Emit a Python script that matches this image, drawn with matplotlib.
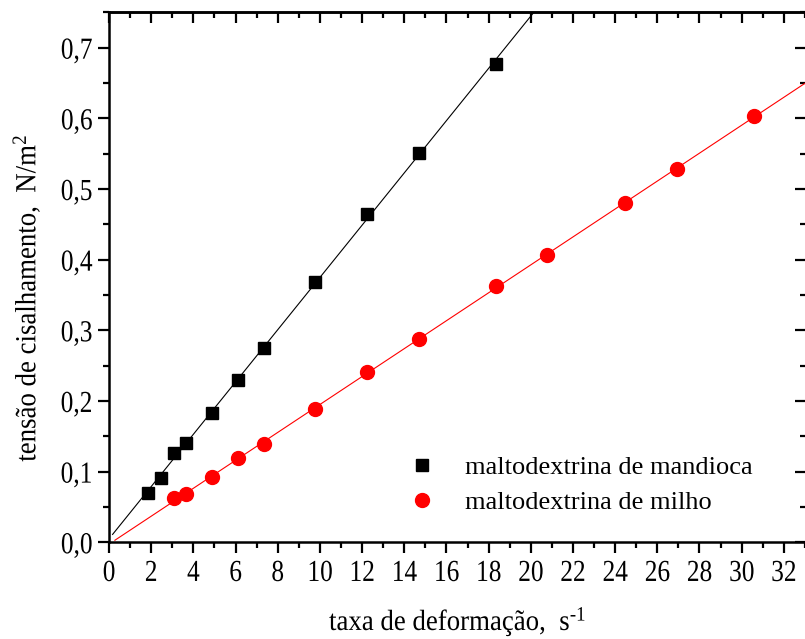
import numpy as np
import matplotlib
matplotlib.use('Agg')
import matplotlib.pyplot as plt
from matplotlib.ticker import MultipleLocator, FuncFormatter
from matplotlib.patheffects import AbstractPathEffect
from matplotlib.transforms import Affine2D

plt.rcParams['font.family'] = ['Liberation Serif', 'DejaVu Serif']
plt.rcParams['mathtext.fontset'] = 'custom'
plt.rcParams['mathtext.rm'] = 'Liberation Serif'
plt.rcParams['mathtext.it'] = 'Liberation Serif:italic'

# dados
taxa_mandioca = [1.83, 2.45, 3.06, 3.67, 4.89, 6.12, 7.34, 9.79, 12.23, 14.68, 18.35]
tensao_mandioca = [0.070, 0.091, 0.126, 0.140, 0.183, 0.230, 0.275, 0.369, 0.464, 0.551, 0.677]

taxa_milho = [3.06, 3.67, 4.89, 6.12, 7.34, 9.79, 12.23, 14.68, 18.35, 20.79, 24.46, 26.91, 30.58]
tensao_milho = [0.063, 0.069, 0.092, 0.119, 0.139, 0.188, 0.241, 0.288, 0.363, 0.407, 0.480, 0.528, 0.603]

nomes = ['maltodextrina de mandioca', 'maltodextrina de milho']


# fonte "condensada": estreita o texto na direcao da escrita
class Estreitar(AbstractPathEffect):
    def __init__(self, fator=0.85, ancora='center'):
        super().__init__()
        self.fator = fator
        self.ancora = ancora

    def draw_path(self, renderer, gc, tpath, affine, rgbFace=None):
        ext = tpath.get_extents(affine)
        if self.ancora == 'vertical':
            cy = (ext.y0 + ext.y1) / 2
            t = affine + Affine2D().translate(0, -cy).scale(1, self.fator).translate(0, cy)
        else:
            if self.ancora == 'right':
                cx = ext.x1
            else:
                cx = (ext.x0 + ext.x1) / 2
            t = affine + Affine2D().translate(-cx, 0).scale(self.fator, 1).translate(cx, 0)
        renderer.draw_path(gc, tpath, t, rgbFace)


fig = plt.figure(figsize=(8.05, 6.39), dpi=100)
ax = fig.add_axes([109 / 805, (639 - 542.3) / 639, 697 / 805, 530.3 / 639])

# ajuste linear de cada serie
xs = np.array([0.17, 33.5])
a, b = np.polyfit(taxa_mandioca, tensao_mandioca, 1)
ax.plot(xs, a * xs + b, color='black', lw=0.8)
a, b = np.polyfit(taxa_milho, tensao_milho, 1)
xs2 = np.array([0.28, 33.5])
ax.plot(xs2, a * xs2 + b, color='red', lw=0.8)

ax.plot(taxa_mandioca, tensao_mandioca, 's', color='black', ms=8.5, ls='none', label=nomes[0])
ax.plot(taxa_milho, tensao_milho, 'o', color='red', ms=10, ls='none', label=nomes[1])

ax.set_xlim(0, 33.05)
ax.set_ylim(0, 0.7505)

ax.xaxis.set_major_locator(MultipleLocator(2))
ax.xaxis.set_minor_locator(MultipleLocator(1))
ax.yaxis.set_major_locator(MultipleLocator(0.1))
ax.yaxis.set_minor_locator(MultipleLocator(0.05))
ax.yaxis.set_major_formatter(FuncFormatter(lambda v, p: f'{v:.1f}'.replace('.', ',')))

ax.tick_params(which='major', direction='out', length=8, width=1.6, labelsize=22)
ax.tick_params(axis='x', which='major', pad=4)
ax.tick_params(axis='y', which='major', pad=4)
ax.tick_params(which='minor', direction='out', length=4.5, width=1.6)

for s in ax.spines.values():
    s.set_linewidth(1.8)

# eixos de cima e da direita com ticks para dentro
top = ax.secondary_xaxis('top')
top.xaxis.set_major_locator(MultipleLocator(2))
top.xaxis.set_minor_locator(MultipleLocator(1))
top.tick_params(which='major', direction='in', length=8, width=1.6, labeltop=False)
top.tick_params(which='minor', direction='in', length=4.5, width=1.6)
top.spines['top'].set_linewidth(1.8)

right = ax.secondary_yaxis('right')
right.yaxis.set_major_locator(MultipleLocator(0.1))
right.yaxis.set_minor_locator(MultipleLocator(0.05))
right.tick_params(which='major', direction='in', length=8, width=1.6, labelright=False)
right.tick_params(which='minor', direction='in', length=4.5, width=1.6)

xl = ax.set_xlabel(r'taxa de deformação,  s$^{\text{-1}}$', fontsize=21)
yl = ax.set_ylabel(r'tensão de cisalhamento,  N/m$^{2}$', fontsize=21)
ax.xaxis.set_label_coords(0.5, -0.117)
ax.yaxis.set_label_coords(-0.095, 0.46)
xl.set_path_effects([Estreitar(0.92)])
yl.set_path_effects([Estreitar(0.92, 'vertical')])

ax.legend(loc='center left', bbox_to_anchor=(0.411, 0.108), frameon=False,
          fontsize=19, borderpad=0, borderaxespad=0, labelspacing=0.45,
          handlelength=2, handletextpad=0.63)

fig.canvas.draw()
for t in ax.xaxis.get_major_ticks():
    t.label1.set_path_effects([Estreitar(0.83)])
for t in ax.yaxis.get_major_ticks():
    t.label1.set_path_effects([Estreitar(0.83, 'right')])

fig.savefig('out.png', dpi=100)
